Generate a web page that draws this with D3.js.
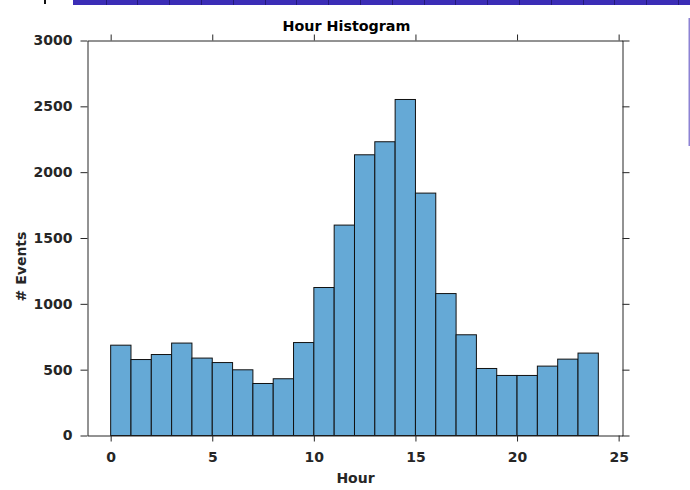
<!DOCTYPE html>
<html><head><meta charset="utf-8">
<script src="https://cdn.jsdelivr.net/npm/d3@7"></script>
<style>
body{margin:0;background:#fff;}
svg{display:block;}
text{font-family:"DejaVu Sans",sans-serif;font-weight:bold;}
</style>
</head><body>
<svg id="c" width="690" height="490"></svg>
<script>
// ---- data ----
const binStarts = [0,1,2,3,4,5,6,7,8,9,10,11,12,13,14,15,16,17,18,19,20,21,22,23];
const binEnds   = [1,2,3,4,5,6,7,8,9,10,11,12,13,14,15,16,17,18,19,20,21,22,23,24];
const counts    = [686,577,615,702,588,554,499,395,431,706,1124,1598,2132,2231,2552,1841,1078,765,509,456,456,527,580,626];
const xTicks = [0,5,10,15,20,25];
const yTicks = [0,500,1000,1500,2000,2500,3000];
const titleText = "Hour Histogram";
const xLabelText = "Hour";
const yLabelText = "# Events";

const svg = d3.select("#c");
const W = 690, H = 490;

// screenshot decoration (top strip)
svg.append("rect").attr("x",73).attr("y",0).attr("width",617).attr("height",5).attr("fill","#3b2db6");
svg.append("g").selectAll("line").data(d3.range(105.5,690,31.8)).join("line")
  .attr("x1",d=>Math.round(d)+0.5).attr("x2",d=>Math.round(d)+0.5).attr("y1",0).attr("y2",5)
  .attr("stroke","#241a7a").attr("stroke-width",1);
svg.append("rect").attr("x",44).attr("y",0).attr("width",2).attr("height",4).attr("fill","#111");
svg.append("rect").attr("x",688.5).attr("y",18).attr("width",1.5).attr("height",128).attr("fill","#8d83d4");

const x = d3.scaleLinear().domain([-1.14,25.19]).range([87.5,622.5]);
const y = d3.scaleLinear().domain([0,3000]).range([435.5,40.5]);

// bars
const bins = binStarts.map((s,i)=>({s, e:binEnds[i], c:counts[i]}));
svg.append("g").selectAll("rect").data(bins).join("rect")
  .attr("x",d=>x(d.s)).attr("width",d=>x(d.e)-x(d.s))
  .attr("y",d=>y(d.c)).attr("height",d=>y(0)-y(d.c))
  .attr("fill","#65a9d6").attr("stroke","#111").attr("stroke-width",1);

const axisColor = "#262626";
function styleAxis(g){
  g.selectAll(".domain").attr("stroke",axisColor).attr("stroke-width",1);
  g.selectAll(".tick line").attr("stroke",axisColor).attr("stroke-width",1);
  g.selectAll(".tick text").attr("fill",axisColor).style("font-size","14px")
    .style("font-family","'DejaVu Sans',sans-serif").style("font-weight","bold");
}

svg.append("g").attr("transform",`translate(0,${y(0)})`)
  .call(d3.axisBottom(x).tickValues(xTicks).tickFormat(d3.format("d")).tickSizeInner(6).tickSizeOuter(0).tickPadding(11))
  .call(styleAxis);
svg.append("g").attr("transform",`translate(0,${y(3000)})`)
  .call(d3.axisTop(x).tickValues(xTicks).tickFormat("").tickSizeInner(6).tickSizeOuter(0))
  .call(styleAxis);
svg.append("g").attr("transform",`translate(${x.range()[0]},0)`)
  .call(d3.axisLeft(y).tickValues(yTicks).tickFormat(d3.format("d")).tickSizeInner(7).tickSizeOuter(0).tickPadding(8))
  .call(styleAxis);
svg.append("g").attr("transform",`translate(${x.range()[1]},0)`)
  .call(d3.axisRight(y).tickValues(yTicks).tickFormat("").tickSizeInner(7).tickSizeOuter(0))
  .call(styleAxis);

// title & labels
svg.append("text").attr("x",346.5).attr("y",31).attr("text-anchor","middle")
  .style("font-size","14.3px").attr("fill","#000").text(titleText);
svg.append("text").attr("x",355.5).attr("y",482.5).attr("text-anchor","middle")
  .style("font-size","14px").attr("fill",axisColor).text(xLabelText);
svg.append("text").attr("transform","translate(25.5,266.5) rotate(-90)").attr("text-anchor","middle")
  .style("font-size","14px").attr("fill",axisColor).text(yLabelText);
</script>
</body></html>
